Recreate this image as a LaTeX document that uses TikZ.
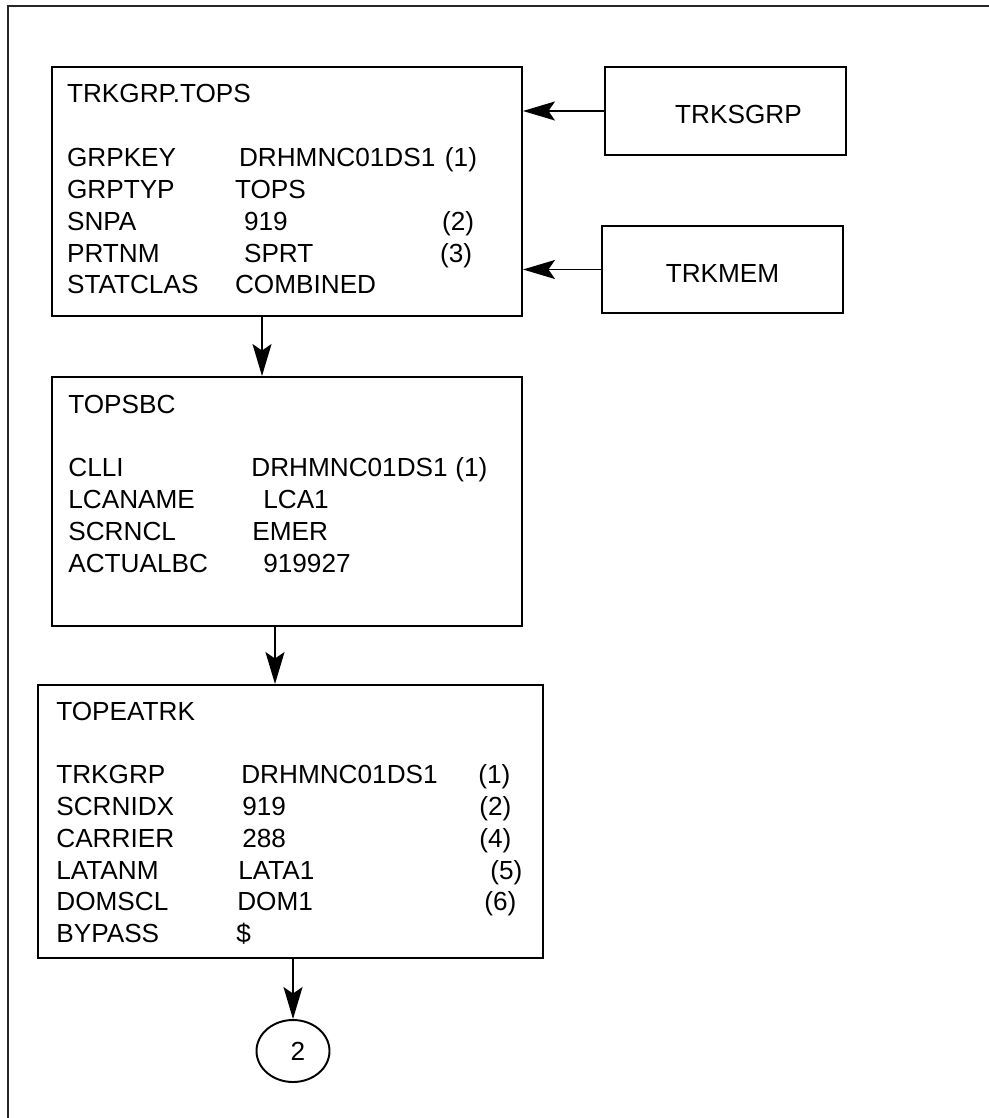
\documentclass[tikz,border=0pt]{standalone}
\usepackage{fontspec}
\setmainfont{Liberation Sans}
\usetikzlibrary{shapes.geometric, arrows.meta, positioning, calc}
\newlength{\px}
\setlength{\px}{0.02cm}
% one table line: label, shift, value, shift, note
\newcommand{\fld}[5]{#1 & \hspace*{#2\px}#3 & \hspace*{#4\px}#5 \\}
\tikzset{
  >={Stealth[length=6.4mm, width=3.8mm, inset=1.3mm]},
  tbox/.style={draw, line width=1.1pt, inner sep=0pt},
  sbox/.style={tbox, minimum width=241\px, minimum height=88\px,
    font=\fontsize{14.9}{18.1}\selectfont, text height=26\px, text depth=0pt},
  tabtext/.style={anchor=base west, inner sep=0pt,
    font=\fontsize{14.9}{18.1}\selectfont},
  oval/.style={ellipse, draw, line width=1.1pt, minimum width=73\px,
    minimum height=62\px, inner sep=0pt, font=\fontsize{14.9}{18.1}\selectfont},
  flow/.style={->, line width=0.9pt},
  frame/.style={line width=1.2pt, draw=black!85},
}
\begin{document}
\begin{tikzpicture}[x=0.02cm, y=-0.02cm]
  \useasboundingbox (0,0) rectangle (989,1118);
  \draw[frame] (989,6) -- (8,6) -- (8,1118);

  % ---- Boxes -------------------------------------------------------------
  \node[tbox, minimum width=470\px, minimum height=249\px] (grp) at (287,191.5) {};
  \node[tbox, minimum width=470\px, minimum height=249\px] (sbc) at (287,501.5) {};
  \node[tbox, minimum width=505\px, minimum height=273\px] (eat) at (290.5,821.5) {};
  \node[sbox] (sgrp) at (725.5,111) {\hspace*{26\px}TRKSGRP};
  \node[sbox, minimum height=87\px] (mem) at (722.5,269.5) {TRKMEM};
  \node[oval] (circ) at (293,1051) {\hspace*{10\px}2};

  % ---- Tables ------------------------------------------------------------
  \node[tabtext] (grptxt) at (66.7,103) {\begin{tabular}[t]{@{}p{168\px}@{}p{207\px}@{}l@{}}
    \multicolumn{3}{@{}l@{}}{TRKGRP.TOPS}\\ \\
    \fld{GRPKEY}{4}{DRHMNC01DS1}{3}{(1)}
    \fld{GRPTYP}{0}{TOPS}{0}{}
    \fld{SNPA}{9}{919}{0}{(2)}
    \fld{PRTNM}{9}{SPRT}{-2}{(3)}
    \fld{STATCLAS}{0}{COMBINED}{0}{}
  \end{tabular}};
  \node[tabtext] (sbctxt) at (68,413) {\begin{tabular}[t]{@{}p{183\px}@{}p{204\px}@{}l@{}}
    \multicolumn{3}{@{}l@{}}{TOPSBC}\\ \\
    \fld{CLLI}{0}{DRHMNC01DS1}{0}{(1)}
    \fld{LCANAME}{12}{LCA1}{0}{}
    \fld{SCRNCL}{1}{EMER}{0}{}
    \fld{ACTUALBC}{12}{919927}{0}{}
  \end{tabular}};
  \node[tabtext] (eattxt) at (56,720) {\begin{tabular}[t]{@{}p{180\px}@{}p{242\px}@{}l@{}}
    \multicolumn{3}{@{}l@{}}{TOPEATRK}\\ \\
    \fld{TRKGRP}{5}{DRHMNC01DS1}{0}{(1)}
    \fld{SCRNIDX}{6}{919}{1}{(2)}
    \fld{CARRIER}{6}{288}{1}{(4)}
    \fld{LATANM}{2}{LATA1}{12}{(5)}
    \fld{DOMSCL}{1}{DOM1}{6}{(6)}
    \fld{BYPASS}{0}{\$}{0}{}
  \end{tabular}};

  % ---- Edges -------------------------------------------------------------
  \draw[flow] (sgrp.west) -- (sgrp.west -| grp.east);
  \draw[flow] (mem.west) -- (mem.west -| grp.east);
  \draw[flow] (grp.south) ++(-25,0) coordinate (d1) -- (d1 |- sbc.north);
  \draw[flow] (sbc.south) ++(-12,0) coordinate (d2) -- (d2 |- eat.north);
  \draw[flow] (eat.south -| circ.north) -- (circ.north);

\end{tikzpicture}
\end{document}
